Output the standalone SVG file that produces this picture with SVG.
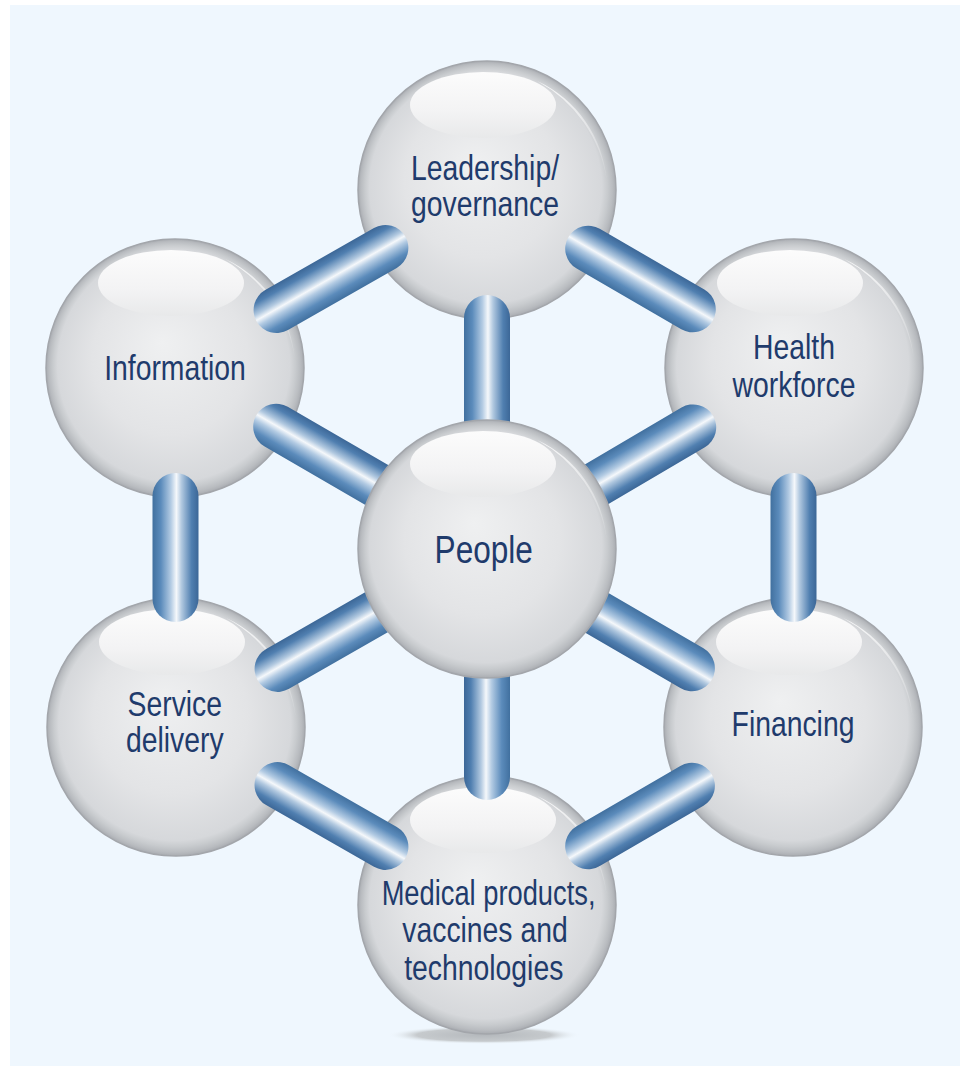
<svg xmlns="http://www.w3.org/2000/svg" width="960" height="1071" viewBox="0 0 960 1071">
  <defs>
    <radialGradient id="body" cx="0.5" cy="0.5" r="0.5" fx="0.45" fy="0.4">
      <stop offset="0" stop-color="#eff0f1"/>
      <stop offset="0.6" stop-color="#e3e4e6"/>
      <stop offset="0.9" stop-color="#d6d8db"/>
      <stop offset="0.94" stop-color="#c8cbce"/>
      <stop offset="0.975" stop-color="#b9bcc0"/>
      <stop offset="1" stop-color="#a9acb1"/>
    </radialGradient>
    <linearGradient id="hl" x1="0" y1="0" x2="0" y2="1">
      <stop offset="0" stop-color="#fcfcfc"/>
      <stop offset="0.6" stop-color="#f3f3f4"/>
      <stop offset="1" stop-color="#e8e9ea"/>
    </linearGradient>
    <linearGradient id="refl" x1="0" y1="0" x2="1" y2="1">
      <stop offset="0" stop-color="#ffffff" stop-opacity="0.9"/>
      <stop offset="1" stop-color="#ffffff" stop-opacity="0.1"/>
    </linearGradient>
    <linearGradient id="rodg" x1="0" y1="0" x2="1" y2="0">
      <stop offset="0" stop-color="#41709f"/>
      <stop offset="0.18" stop-color="#5b8bbb"/>
      <stop offset="0.4" stop-color="#b3cbe3"/>
      <stop offset="0.52" stop-color="#f5f8fb"/>
      <stop offset="0.63" stop-color="#b2c9e0"/>
      <stop offset="0.85" stop-color="#507fb0"/>
      <stop offset="1" stop-color="#3c6797"/>
    </linearGradient>
    <radialGradient id="shadow" cx="0.5" cy="0.5" r="0.5">
      <stop offset="0" stop-color="#b4b8bc"/>
      <stop offset="0.7" stop-color="#c6cacd"/>
      <stop offset="1" stop-color="#eef6fc" stop-opacity="0"/>
    </radialGradient>
    <g id="ball">
      <circle r="129" fill="url(#body)" stroke="#a3a6ab" stroke-width="1.5"/>
      <ellipse cx="-4" cy="-85" rx="73" ry="33" fill="url(#hl)"/>
      <path d="M 50.7,-108.8 A 120 120 0 0 1 119.5,-10.5 A 135 135 0 0 0 50.7,-108.8 Z" fill="url(#refl)"/>
    </g>
  </defs>
  <style>
    .lbl { font-family: "Liberation Sans", Arial, sans-serif; font-size: 35px; fill: #1f3b6c; text-anchor: middle; }
    .big { font-size: 39px; }
    .rod { fill: url(#rodg); }
  </style>

  <rect x="0" y="0" width="960" height="1071" fill="#ffffff"/>
  <rect x="10" y="5" width="950" height="1061" fill="#eff7fe"/>
  <ellipse cx="484" cy="1035" rx="96" ry="9" fill="url(#shadow)"/>

  <g id="node-leadership" transform="translate(487,190)">
    <use href="#ball"/>
    <text class="lbl" transform="scale(0.81,1)" x="-2.5" y="-10">Leadership/</text>
    <text class="lbl" transform="scale(0.81,1)" x="-2.5" y="26">governance</text>
  </g>
  <g id="node-information" transform="translate(175,368)">
    <use href="#ball"/>
    <text class="lbl" transform="scale(0.81,1)" x="0" y="12">Information</text>
  </g>
  <g id="node-health-workforce" transform="translate(794,368)">
    <use href="#ball"/>
    <text class="lbl" transform="scale(0.81,1)" x="0" y="-9">Health</text>
    <text class="lbl" transform="scale(0.81,1)" x="0" y="29">workforce</text>
  </g>
  <g id="node-service-delivery" transform="translate(176,727)">
    <use href="#ball"/>
    <text class="lbl" transform="scale(0.81,1)" x="-1.5" y="-11">Service</text>
    <text class="lbl" transform="scale(0.81,1)" x="-1.5" y="25">delivery</text>
  </g>
  <g id="node-financing" transform="translate(793,727)">
    <use href="#ball"/>
    <text class="lbl" transform="scale(0.81,1)" x="0" y="9">Financing</text>
  </g>
  <g id="node-medical" transform="translate(487,905)">
    <use href="#ball"/>
    <text class="lbl" transform="scale(0.78,1)" x="2" y="0">Medical products,</text>
    <text class="lbl" transform="scale(0.81,1)" x="-2.5" y="37">vaccines and</text>
    <text class="lbl" transform="scale(0.81,1)" x="-4" y="75">technologies</text>
  </g>

  <g id="connectors">
    <rect class="rod" x="-23" y="-23" width="46" height="171.2" rx="23" transform="translate(276.6,310) rotate(-119.7)"/>
    <rect class="rod" x="-23" y="-23" width="46" height="166.9" rx="23" transform="translate(588.2,248.7) rotate(-59.9)"/>
    <rect class="rod" x="-23" y="-23" width="46" height="149" rx="23" transform="translate(793.5,496) rotate(0)"/>
    <rect class="rod" x="-23" y="-23" width="46" height="166" rx="23" transform="translate(691.9,785.8) rotate(59.8)"/>
    <rect class="rod" x="-23" y="-23" width="46" height="170.3" rx="23" transform="translate(385.4,846.9) rotate(119.8)"/>
    <rect class="rod" x="-23" y="-23" width="46" height="149" rx="23" transform="translate(175.5,496) rotate(0)"/>
    <rect class="rod" x="-23" y="-23" width="46" height="254" rx="23" transform="translate(487,318) rotate(0)"/>
    <rect class="rod" x="-23" y="-23" width="46" height="262" rx="23" transform="translate(693.2,427.4) rotate(59.5)"/>
    <rect class="rod" x="-23" y="-23" width="46" height="260" rx="23" transform="translate(691.9,668.2) rotate(120.2)"/>
    <rect class="rod" x="-23" y="-23" width="46" height="251" rx="23" transform="translate(487,777) rotate(180)"/>
    <rect class="rod" x="-23" y="-23" width="46" height="264" rx="23" transform="translate(277.6,668.9) rotate(-119.8)"/>
    <rect class="rod" x="-23" y="-23" width="46" height="266" rx="23" transform="translate(276.2,426.7) rotate(-59.9)"/>
  </g>

  <g id="node-people" transform="translate(487,549)">
    <use href="#ball"/>
    <text class="lbl big" transform="scale(0.81,1)" x="-4" y="14">People</text>
  </g>
</svg>
